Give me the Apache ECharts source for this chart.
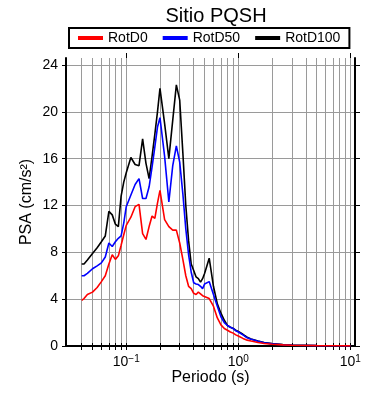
<!DOCTYPE html>
<html>
<head>
<meta charset="utf-8">
<script src="https://cdn.jsdelivr.net/npm/echarts@6/dist/echarts.min.js"></script>
<style>
  html, body { margin: 0; padding: 0; background: #fff; }
  #chart { width: 390px; height: 400px; }
</style>
</head>
<body>
<div id="chart"></div>
<script>
// periodos (s)
var periods = [0.04, 0.042, 0.045, 0.05, 0.055, 0.06, 0.065, 0.07, 0.075, 0.08,
  0.085, 0.09, 0.095, 0.1, 0.11, 0.12, 0.13, 0.14, 0.15, 0.16,
  0.17, 0.18, 0.19, 0.2, 0.22, 0.24, 0.26, 0.28, 0.3, 0.32,
  0.34, 0.36, 0.38, 0.4, 0.42, 0.44, 0.46, 0.48, 0.5, 0.55,
  0.6, 0.65, 0.7, 0.75, 0.8, 0.85, 0.9, 0.95, 1, 1.1,
  1.2, 1.3, 1.5, 1.7, 2, 2.5, 3, 4, 5, 7.5, 10];

var rotD0 = [3.9, 4.05, 4.4, 4.6, 5.0, 5.5, 6.0, 7.0, 7.8, 7.4,
  7.7, 8.6, 9.5, 10.3, 11.0, 11.9, 12.1, 9.6, 9.1, 10.2,
  11.1, 10.9, 12.2, 13.3, 10.8, 10.2, 9.9, 9.9, 8.8, 7.4,
  6.0, 5.1, 4.9, 4.5, 4.4, 4.6, 4.45, 4.3, 4.25, 4.05,
  3.4, 2.4, 1.8, 1.5, 1.35, 1.2, 1.1, 0.95, 0.85, 0.65,
  0.5, 0.42, 0.3, 0.22, 0.15, 0.1, 0.07, 0.04, 0.03, 0.015, 0.01];

var rotD50 = [6.0, 6.0, 6.2, 6.6, 6.85, 7.1, 7.6, 8.8, 8.5, 8.9,
  9.2, 9.4, 10.5, 11.9, 12.9, 13.8, 14.3, 12.6, 12.6, 13.6,
  15.3, 17.0, 18.7, 19.5, 16.2, 12.3, 15.4, 17.1, 15.7, 13.0,
  10.0, 7.8, 6.3, 5.4, 5.3, 5.25, 5.1, 4.9, 5.3, 5.5,
  4.4, 3.4, 2.5, 2.0, 1.75, 1.6, 1.5, 1.3, 1.2, 0.95,
  0.7, 0.58, 0.4, 0.28, 0.18, 0.11, 0.07, 0.04, 0.03, 0.015, 0.01];

var rotD100 = [7.0, 7.0, 7.35, 7.9, 8.4, 8.9, 9.4, 11.5, 11.2, 10.4,
  10.2, 12.8, 14.0, 14.8, 16.1, 15.5, 15.4, 17.7, 15.6, 14.3,
  16.2, 18.1, 20.0, 22.0, 19.0, 16.0, 19.3, 22.3, 21.0, 16.5,
  12.0, 9.0, 7.0, 6.45, 5.9, 5.75, 5.45, 5.75, 6.2, 7.5,
  5.1, 3.6, 2.8, 2.2, 1.75, 1.6, 1.5, 1.35, 1.25, 1.0,
  0.75, 0.6, 0.42, 0.3, 0.2, 0.12, 0.08, 0.05, 0.03, 0.015, 0.01];

var seriesNames = ['RotD0', 'RotD50', 'RotD100'];
var seriesColors = ['#ff0000', '#0000ff', '#000000'];

// marcas del eje x (log) y del eje y
var xTicks = [0.04, 0.05, 0.06, 0.07, 0.08, 0.09,
  0.1, 0.2, 0.3, 0.4, 0.5, 0.6, 0.7, 0.8, 0.9,
  1, 2, 3, 4, 5, 6, 7, 8, 9, 10];
var xMajor = [0.1, 1, 10];
var yTicks = [0, 4, 8, 12, 16, 20, 24];

function pairs(ys) {
  return periods.map(function (p, i) { return [p, ys[i]]; });
}

var font = 'Liberation Sans';
var chart = echarts.init(document.getElementById('chart'));

var option = {
  animation: false,
  textStyle: { fontFamily: font },
  title: {
    text: 'Sitio PQSH',
    left: 211,
    textAlign: 'center',
    top: 1,
    textStyle: { fontFamily: font, fontSize: 20, fontWeight: 'normal', color: '#000' }
  },
  legend: {
    data: seriesNames,
    left: 69,
    top: 28,
    padding: [3, 9],
    borderColor: '#000',
    borderWidth: 2,
    itemGap: 15,
    itemWidth: 25,
    itemHeight: 4,
    icon: 'rect',
    textStyle: { fontFamily: font, fontSize: 14, color: '#000' }
  },
  grid: { left: 66, right: 35, top: 58, bottom: 54 },
  xAxis: [
    {
      type: 'log',
      position: 'bottom',
      min: 0.029,
      max: 11,
      name: 'Periodo (s)',
      nameLocation: 'middle',
      nameGap: 24,
      nameMoveOverlap: false,
      nameTextStyle: { fontFamily: font, fontSize: 16, color: '#000' },
      axisLine: { lineStyle: { color: '#000', width: 2 } },
      axisTick: { customValues: xTicks, length: 4, lineStyle: { color: '#000' } },
      axisLabel: {
        customValues: xMajor,
        margin: 8,
        color: '#000',
        fontFamily: font,
        fontSize: 14,
        formatter: function (v) {
          var e = Math.round(Math.log10(v));
          return '10{sup|' + (e < 0 ? '\u2212' + (-e) : e) + '}';
        },
        rich: {
          sup: { fontSize: 10, fontFamily: font, color: '#000', verticalAlign: 'top', padding: [0, 0, 7, 0] }
        }
      },
      splitLine: { show: true, lineStyle: { color: '#9a9a9a', width: 1 } }
    },
    {
      type: 'log',
      position: 'top',
      min: 0.029,
      max: 11,
      axisLine: { lineStyle: { color: '#000', width: 2 } },
      axisTick: { customValues: xTicks, length: 3, lineStyle: { color: '#000' } },
      axisLabel: { show: false },
      splitLine: { show: false }
    },
    {
      type: 'log',
      position: 'top',
      min: 0.029,
      max: 11,
      axisLine: { show: false },
      axisTick: { customValues: xMajor, length: 5, lineStyle: { color: '#000' } },
      axisLabel: { show: false },
      splitLine: { show: false }
    }
  ],
  yAxis: [
    {
      type: 'value',
      position: 'left',
      min: 0,
      max: 24.6,
      name: 'PSA (cm/s\u00b2)',
      nameLocation: 'middle',
      nameGap: 31,
      nameMoveOverlap: false,
      nameTextStyle: { fontFamily: font, fontSize: 16, color: '#000' },
      axisLine: { show: true, lineStyle: { color: '#000', width: 2 } },
      axisTick: { show: true, customValues: yTicks, length: 4, lineStyle: { color: '#000' } },
      axisLabel: { customValues: yTicks, margin: 8, color: '#000', fontFamily: font, fontSize: 14 },
      splitLine: { show: true, lineStyle: { color: '#9a9a9a', width: 1 } }
    },
    {
      type: 'value',
      position: 'right',
      min: 0,
      max: 24.6,
      axisLine: { show: true, lineStyle: { color: '#000', width: 2 } },
      axisTick: { show: true, customValues: yTicks, length: 5, lineStyle: { color: '#000' } },
      axisLabel: { show: false },
      splitLine: { show: false }
    }
  ],
  series: [
    { name: 'RotD100', type: 'line', data: pairs(rotD100) },
    { name: 'RotD50', type: 'line', data: pairs(rotD50) },
    { name: 'RotD0', type: 'line', data: pairs(rotD0) }
  ].map(function (s) {
    var c = seriesColors[seriesNames.indexOf(s.name)];
    s.showSymbol = false;
    s.symbol = 'none';
    s.color = c;
    s.lineStyle = { color: c, width: 1.6 };
    return s;
  })
};

chart.setOption(option);
</script>
</body>
</html>
